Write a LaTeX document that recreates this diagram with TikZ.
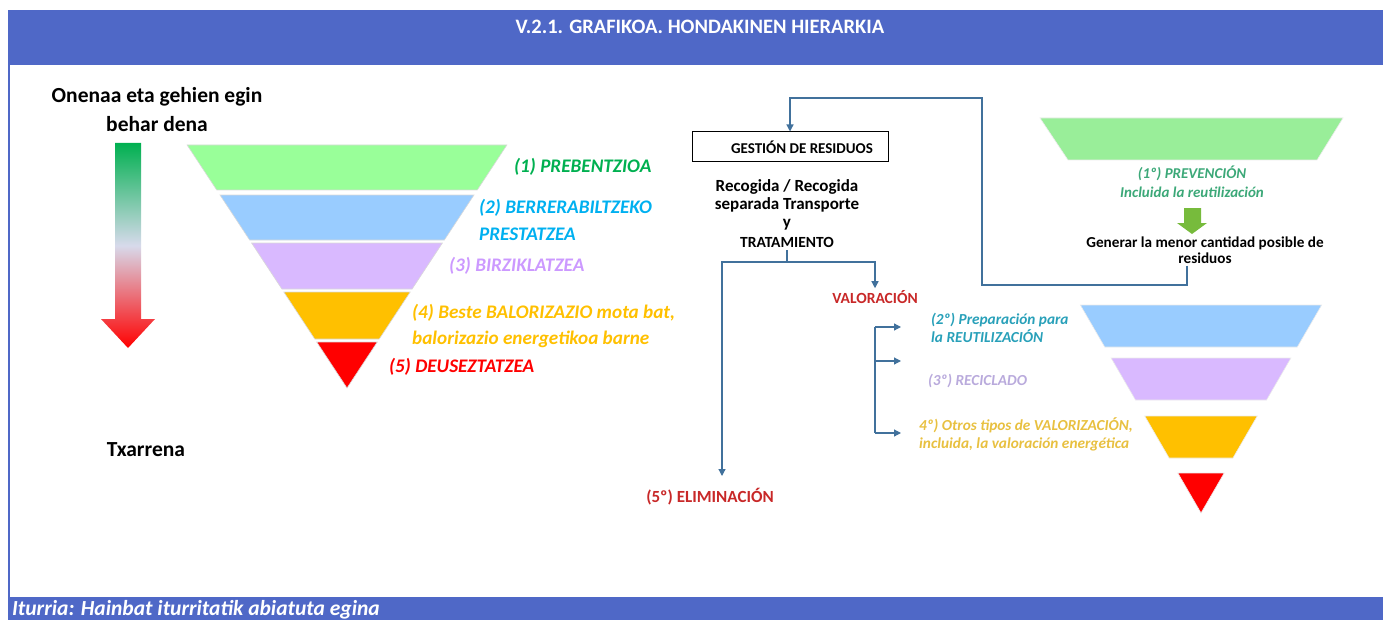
\documentclass[tikz,border=0pt]{standalone}
\usepackage{fontspec}
\setmainfont{Carlito}
\usepackage{xcolor}
\usetikzlibrary{arrows.meta, positioning, calc}

\definecolor{hdrblue}{RGB}{79,104,199}
\definecolor{steel}{RGB}{65,113,156}
\definecolor{pgreen}{RGB}{153,255,153}
\definecolor{pblue}{RGB}{153,204,255}
\definecolor{ppurple}{RGB}{217,185,255}
\definecolor{porange}{RGB}{255,192,0}
\definecolor{pred}{RGB}{255,0,0}
\definecolor{lgreen}{RGB}{0,176,80}
\definecolor{lcyan}{RGB}{0,176,240}
\definecolor{lpurple}{RGB}{204,153,255}
\definecolor{rgreen}{RGB}{153,238,153}
\definecolor{rteal}{RGB}{60,168,120}
\definecolor{rcyan}{RGB}{40,160,185}
\definecolor{rpurple}{RGB}{185,170,220}
\definecolor{ryellow}{RGB}{232,192,64}
\definecolor{rred}{RGB}{200,40,40}
\definecolor{blockgreen}{RGB}{119,187,60}
\definecolor{midgrey}{RGB}{215,218,235}

\begin{document}
\begin{tikzpicture}[
    x=1bp, y=-1bp,
    band/.style={draw=black!15, line width=0.6bp},
    plabel/.style={anchor=west, inner sep=0pt, font=\bfseries\itshape\fontsize{19.2bp}{26.5bp}\selectfont, align=left},
    rlabel/.style={anchor=west, inner sep=0pt, font=\bfseries\itshape\fontsize{15.3bp}{18bp}\selectfont, align=left},
    sidetext/.style={inner sep=0pt, font=\bfseries\fontsize{21.5bp}{29bp}\selectfont, align=center},
    flowtext/.style={inner sep=2bp, font=\bfseries\fontsize{17bp}{18bp}\selectfont, align=center},
    mgmtbox/.style={rectangle, draw=black, line width=1bp, minimum width=196bp, minimum height=30bp, font=\bfseries\fontsize{15bp}{16bp}\selectfont},
    conn/.style={draw=steel, line width=1.2bp},
    arrow/.style={conn, -{Triangle[length=7bp, width=7bp]}},
  ]

  \useasboundingbox (0,0) rectangle (1383,620);

  % frame: header, footer and left rule
  \fill[hdrblue] (8,10) rectangle (1383,65);
  \fill[hdrblue] (8,597) rectangle (1383,620);
  \draw[hdrblue, line width=2bp] (9,65) -- (9,597);
  \node[text=white, font=\bfseries\fontsize{20.5bp}{22bp}\selectfont] (title) at (700,27) {V.2.1. GRAFIKOA. HONDAKINEN HIERARKIA};
  \node[anchor=base west, inner sep=0pt, text=white, font=\bfseries\itshape\fontsize{21.5bp}{24bp}\selectfont] (source) at (12,615) {Iturria: Hainbat iturritatik abiatuta egina};

  % left side
  \node[sidetext] (best) at (157,110) {Onenaa eta gehien egin\\behar dena};
  \node[sidetext] (worst) at (146,450) {Txarrena};
  \shade[top color=lgreen, bottom color=pred, middle color=midgrey]
    (115,143) -- (141,143) -- (141,319) -- (155,319) -- (128,348) -- (101,319) -- (115,319) -- cycle;

  \foreach \ya/\yb/\c in {145/190/pgreen, 195/240/pblue, 243/289/ppurple, 292/339/porange, 342/388/pred}{
    \pgfmathsetmacro\wa{0.658*(388-\ya)}
    \pgfmathsetmacro\wb{0.658*(388-\yb)}
    \filldraw[band, fill=\c] (347-\wa,\ya) -- (347+\wa,\ya) -- (347+\wb,\yb) -- (347-\wb,\yb) -- cycle;
  }

  \node[plabel, text=lgreen] (l1) at (514,167) {(1) PREBENTZIOA};
  \node[plabel, text=lcyan] (l2) at (479,220) {(2) BERRERABILTZEKO\\PRESTATZEA};
  \node[plabel, text=lpurple] (l3) at (449,266) {(3) BIRZIKLATZEA};
  \node[plabel, text=porange] (l4) at (412,326) {(4) Beste BALORIZAZIO mota bat,\\balorizazio energetikoa barne};
  \node[plabel, text=pred] (l5) at (389,367) {(5) DEUSEZTATZEA};

  % right side: flow
  \node[mgmtbox] (gestion) at (790,147) {\hspace{24bp}GESTIÓN DE RESIDUOS};
  \node[flowtext] (recog) at (787,214) {Recogida / Recogida\\separada Transporte\\y\\[2bp]{\fontsize{15.5bp}{16bp}\selectfont TRATAMIENTO}};
  \node[flowtext, text=rred, font=\bfseries\fontsize{15.5bp}{16bp}\selectfont] (valor) at (875,297) {VALORACIÓN};
  \node[flowtext, text=rred, font=\bfseries\fontsize{17bp}{18bp}\selectfont] (elim) at (710,497) {(5º) ELIMINACIÓN};
  \coordinate (split) at (787,262);
  \coordinate (elimtop) at (722,476);

  \draw[conn] (recog.south) -- (split);
  \draw[arrow] (split) -| (valor.north);
  \draw[arrow] (split) -| (elimtop);

  % right side: prevention
  \filldraw[band, draw=black!8, fill=rgreen] (1040,118) -- (1343,118) -- (1317,160) -- (1068,160) -- cycle;
  \node[rlabel, anchor=center, align=center, text=rteal, font=\bfseries\itshape\fontsize{15bp}{19bp}\selectfont] (r1) at (1192,182) {(1º) PREVENCIÓN\\Incluida la reutilización};
  \fill[blockgreen] (1184,208) -- (1201,208) -- (1201,223) -- (1207,223) -- (1192,234) -- (1177,223) -- (1184,223) -- cycle;
  \node[flowtext, font=\bfseries\fontsize{15.2bp}{16bp}\selectfont] (generar) at (1205,250) {Generar la menor cantidad posible de\\residuos};
  \coordinate (loopa) at (1187,285);
  \coordinate (loopb) at (982,98);

  \draw[arrow] (generar.south -| loopa) -- (loopa) -| (loopb) -| (gestion.north);

  % right side: pyramid
  \foreach \ya/\yb/\c in {305/347/pblue, 358/400/ppurple, 416/458/porange, 473/513/pred}{
    \pgfmathsetmacro\wa{0.58*(513-\ya)}
    \pgfmathsetmacro\wb{0.58*(513-\yb)}
    \filldraw[band, draw=black!8, fill=\c] (1201-\wa,\ya) -- (1201+\wa,\ya) -- (1201+\wb,\yb) -- (1201-\wb,\yb) -- cycle;
  }

  \node[rlabel, text=rcyan] (r2) at (931,328) {(2º) Preparación para\\la REUTILIZACIÓN};
  \node[rlabel, text=rpurple] (r3) at (928,381) {(3º) RECICLADO};
  \node[rlabel, text=ryellow] (r4) at (919,434) {4º) Otros tipos de VALORIZACIÓN,\\incluida, la valoración energética};

  \coordinate (b1) at (875,327);
  \coordinate (b2) at (875,361);
  \coordinate (b3) at (875,433);
  \draw[conn] (b1) -- (b3);
  \foreach \i in {1,2,3}
    \draw[arrow] (b\i) -- ++(26,0);

\end{tikzpicture}
\end{document}
